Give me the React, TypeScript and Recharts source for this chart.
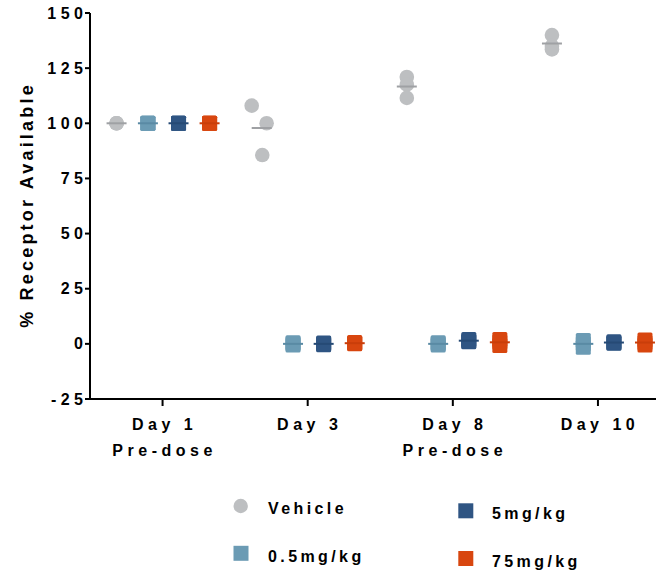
import { ScatterChart, Scatter, XAxis, YAxis } from "recharts";

const days = ["Day 1", "Day 3", "Day 8", "Day 10"];
const daySub = ["Pre-dose", "", "Pre-dose", ""];
const yTicks = [-25, 0, 25, 50, 75, 100, 125, 150];

// individual animals per day
const vehicle = [
  [100, 100, 100],
  [108, 100, 85.6],
  [121, 117.5, 111.5],
  [140, 135, 133.5],
];
const dose05 = [
  [100, 100, 100],
  [-0.5, 0, 0.5],
  [-0.5, 0, 0.5],
  [-1.5, 0, 1.5],
];
const dose5 = [
  [100, 100, 100],
  [-0.4, 0, 0.4],
  [1, 2, 1.3],
  [0.3, 0.5, 1],
];
const dose75 = [
  [100, 100, 100],
  [0, 0.3, 0.6],
  [-0.7, 0.8, 2],
  [-0.5, 0.5, 1.8],
];

// horizontal spread of vehicle dots (x units)
const vehicleJitter = [
  [0, 0, 0],
  [-0.069, 0.034, 0.004],
  [0, 0, 0],
  [0, 0, 0],
];

const FONT = '"Liberation Sans", Arial, sans-serif';

const groups = [
  { name: "Vehicle", values: vehicle, offset: -0.317, fill: "#BDBFC1", line: "#9FA1A4", shape: "circle" },
  { name: "0.5mg/kg", values: dose05, offset: -0.101, fill: "#6B9BB4", line: "#5A8AA4", shape: "square" },
  { name: "5mg/kg", values: dose5, offset: 0.11, fill: "#2F5583", line: "#264A75", shape: "square" },
  { name: "75mg/kg", values: dose75, offset: 0.324, fill: "#D8460F", line: "#C93E0A", shape: "square" },
];

const pointsOf = (g: (typeof groups)[number]) =>
  g.values.flatMap((vals, d) =>
    vals.map((v, i) => ({
      x: d + g.offset + (g.name === "Vehicle" ? vehicleJitter[d][i] : 0),
      y: v,
    }))
  );

const meansOf = (g: (typeof groups)[number]) =>
  g.values.map((vals, d) => ({
    x: d + g.offset,
    y: vals.reduce((a, b) => a + b, 0) / vals.length,
  }));

function dot(fill: string, shape: string) {
  return (p: any) =>
    shape === "circle" ? (
      <circle cx={p.cx} cy={p.cy} r={7.3} fill={fill} />
    ) : (
      <rect x={p.cx - 7.5} y={p.cy - 7.5} width={15} height={15} rx={1.5} fill={fill} />
    );
}

function meanBar(stroke: string) {
  return (p: any) => (
    <line x1={p.cx - 10} x2={p.cx + 10} y1={p.cy} y2={p.cy} stroke={stroke} strokeWidth={2} />
  );
}

const tickText = { fontFamily: FONT, fontSize: 16, fontWeight: 700, fill: "#000", letterSpacing: 4.5 };

function YTick({ x, y, payload }: any) {
  return (
    <text x={x + 4.5} y={y} dy={5.6} textAnchor="end" style={tickText}>
      {payload.value}
    </text>
  );
}

function DayTick({ x, y, payload }: any) {
  const i = payload.value;
  return (
    <g>
      <text x={x + 2} y={y + 22} textAnchor="middle" style={tickText}>
        {days[i]}
      </text>
      {daySub[i] && (
        <text x={x + 2} y={y + 48} textAnchor="middle" style={tickText}>
          {daySub[i]}
        </text>
      )}
    </g>
  );
}

const legendText = { fontFamily: FONT, fontSize: 16, fontWeight: 700, fill: "#000", letterSpacing: 3.4 };

export default function App() {
  return (
    <div style={{ position: "absolute", left: 0, top: 0, width: 656, height: 570, background: "#fff" }}>
      <ScatterChart width={656} height={570} margin={{ top: 13, right: 0, bottom: 0, left: 0 }}>
        <XAxis
          type="number"
          dataKey="x"
          domain={[-0.5, 3.4]}
          ticks={[0, 1, 2, 3]}
          interval={0}
          allowDataOverflow
          height={171}
          tickSize={7}
          axisLine={{ stroke: "#000", strokeWidth: 2 }}
          tickLine={{ stroke: "#000", strokeWidth: 2 }}
          tick={<DayTick />}
        />
        <YAxis
          type="number"
          dataKey="y"
          domain={[-25, 150]}
          ticks={yTicks}
          interval={0}
          width={90}
          tickSize={5}
          axisLine={{ stroke: "#000", strokeWidth: 2 }}
          tickLine={{ stroke: "#000", strokeWidth: 2 }}
          tick={<YTick />}
        />
        {groups.map((g) => (
          <Scatter
            key={g.name}
            name={g.name}
            data={pointsOf(g)}
            shape={dot(g.fill, g.shape)}
            isAnimationActive={false}
          />
        ))}
        {groups.map((g) => (
          <Scatter
            key={g.name + "-mean"}
            name={g.name + " mean"}
            data={meansOf(g)}
            shape={meanBar(g.line)}
            isAnimationActive={false}
          />
        ))}
      </ScatterChart>
      <svg width={656} height={570} style={{ position: "absolute", left: 0, top: 0, pointerEvents: "none" }}>
        <text
          transform="translate(32.5,205) rotate(-90)"
          textAnchor="middle"
          style={{ fontFamily: FONT, fontSize: 18, fontWeight: 700, fill: "#000", letterSpacing: 3.2 }}
        >
          % Receptor Available
        </text>
        <circle cx={240.7} cy={506} r={7.2} fill={groups[0].fill} />
        <text x={268} y={514} style={legendText}>{groups[0].name}</text>
        <rect x={233.5} y={545.8} width={15} height={15} fill={groups[1].fill} />
        <text x={268} y={561.7} style={legendText}>{groups[1].name}</text>
        <rect x={458.3} y={503.3} width={15} height={15} fill={groups[2].fill} />
        <text x={492} y={519.3} style={legendText}>{groups[2].name}</text>
        <rect x={458.3} y={551} width={15} height={15} fill={groups[3].fill} />
        <text x={492} y={567} style={legendText}>{groups[3].name}</text>
      </svg>
    </div>
  );
}
